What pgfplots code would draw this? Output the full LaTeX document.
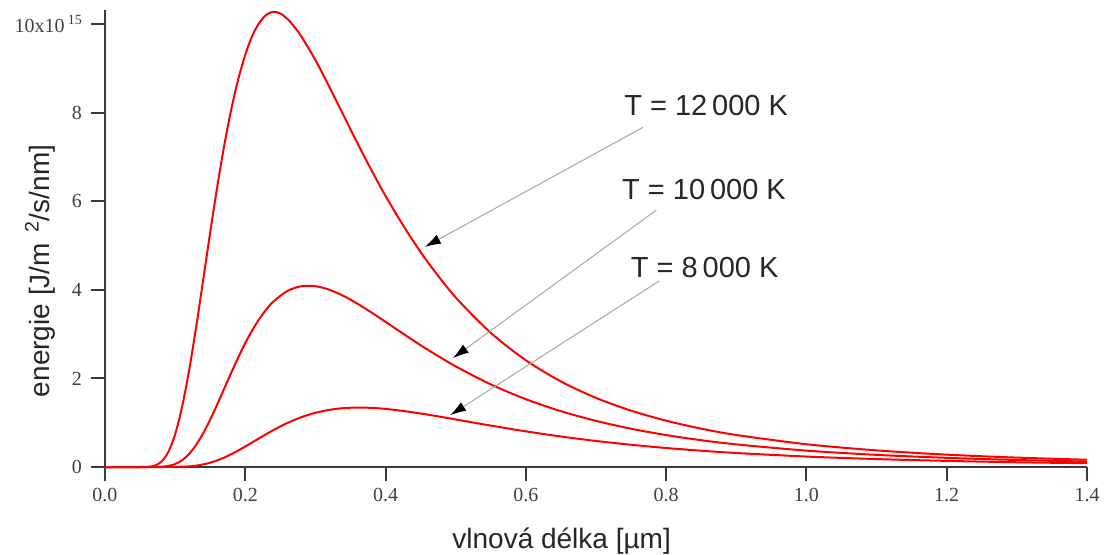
\documentclass[border=0pt]{standalone}
\usepackage{pgfplots}
\pgfplotsset{compat=1.18}
\usepackage{fontspec}
\setmainfont{Liberation Serif}
\newfontfamily\arial{Liberation Sans}
\usetikzlibrary{arrows.meta}
\definecolor{axgray}{HTML}{3A3A3A}
\begin{document}
\begin{tikzpicture}
\useasboundingbox (-52.5pt,-44pt) rectangle (500.5pt,233.5pt);
\begin{axis}[
    anchor=origin, at={(0pt,0pt)},
    scale only axis,
    width=491pt, height=228.5pt,
    xmin=0, xmax=1.4, ymin=0, ymax=10.32,
    axis lines*=left,
    axis line style={axgray, line width=1pt},
    tick style={axgray, line width=1pt},
    tick align=outside,
    major tick length=7pt,
    xtick={0,0.2,...,1.4},
    ytick={0,2,4,6,8,10},
    yticklabels={0,2,4,6,8,{10x10\,\raisebox{4pt}{\fontsize{7}{7}\selectfont 15}}},
    xticklabel style={/pgf/number format/.cd, fixed, fixed zerofill, precision=1},
    /pgf/number format/assume math mode=true,
    ticklabel style={font=\fontsize{10}{12}\selectfont, text=black!75},
    yticklabel style={xshift=-1pt},
    xlabel={vlnová délka [µm]},
    ylabel={energie [J/m\hspace{5pt}\textsuperscript{2}/s/nm]},
    label style={font=\arial\fontsize{14}{16}\selectfont, text=black!85},
    x label style={at={(axis description cs:0.465,-0.162)}, anchor=center},
    y label style={at={(axis description cs:-0.0662,0.429)}, anchor=center},
    clip=false,
]
% T = 12 000 K
\addplot[red, line width=1pt, smooth] coordinates {
    (0,0) (0.05,0) (0.06,0.003) (0.07,0.026) (0.08,0.113) (0.09,0.330)
    (0.10,0.739) (0.11,1.365) (0.12,2.191) (0.13,3.167) (0.14,4.226)
    (0.15,5.299) (0.16,6.325) (0.17,7.261) (0.18,8.077) (0.19,8.757)
    (0.20,9.31) (0.21,9.74) (0.22,10.03) (0.23,10.21) (0.24,10.28)
    (0.25,10.24) (0.26,10.12) (0.27,9.94) (0.28,9.72) (0.30,9.19)
    (0.32,8.58) (0.34,7.945) (0.36,7.31) (0.38,6.70) (0.40,6.12)
    (0.43,5.33) (0.46,4.63) (0.50,3.83) (0.55,3.03) (0.60,2.41)
    (0.65,1.932) (0.70,1.561) (0.75,1.272) (0.80,1.046) (0.85,0.866)
    (0.90,0.723) (1.0,0.514) (1.1,0.375) (1.2,0.279) (1.3,0.212) (1.4,0.164)
};
% T = 10 000 K
\addplot[red, line width=1pt, smooth] coordinates {
    (0,0) (0.06,0) (0.07,0.001) (0.08,0.006) (0.09,0.023) (0.10,0.067)
    (0.11,0.154) (0.12,0.297) (0.13,0.501) (0.14,0.762) (0.15,1.071)
    (0.16,1.412) (0.17,1.771) (0.18,2.129) (0.19,2.475) (0.20,2.798)
    (0.21,3.089) (0.22,3.343) (0.23,3.559) (0.24,3.735) (0.26,3.976)
    (0.28,4.083) (0.30,4.083) (0.32,4.002) (0.34,3.864) (0.36,3.687)
    (0.38,3.488) (0.40,3.277) (0.43,2.958) (0.46,2.650) (0.50,2.272)
    (0.55,1.866) (0.60,1.531) (0.65,1.260) (0.70,1.041) (0.75,0.864)
    (0.80,0.721) (0.85,0.605) (0.90,0.511) (1.0,0.370) (1.1,0.274)
    (1.2,0.207) (1.3,0.158) (1.4,0.123)
};
% T = 8 000 K
\addplot[red, line width=1pt, smooth] coordinates {
    (0,0) (0.08,0) (0.09,0.0004) (0.10,0.002) (0.11,0.006) (0.12,0.015)
    (0.13,0.031) (0.14,0.058) (0.15,0.097) (0.16,0.149) (0.17,0.213)
    (0.18,0.289) (0.19,0.373) (0.20,0.463) (0.22,0.651) (0.24,0.833)
    (0.26,0.994) (0.28,1.125) (0.30,1.224) (0.32,1.291) (0.34,1.329)
    (0.36,1.342) (0.38,1.335) (0.40,1.312) (0.43,1.255) (0.46,1.183)
    (0.50,1.074) (0.55,0.935) (0.60,0.805) (0.65,0.689) (0.70,0.588)
    (0.75,0.502) (0.80,0.429) (0.85,0.368) (0.90,0.316) (1.0,0.236)
    (1.1,0.179) (1.2,0.138) (1.3,0.107) (1.4,0.085)
};
% annotations
\begin{scope}[every node/.style={font=\arial\fontsize{14.5}{16}\selectfont, text=black!85, anchor=base}]
\node at (axis cs:0.857,7.946) {T = 12\,000 K};
\node at (axis cs:0.854,6.05) {T = 10\,000 K};
\node at (axis cs:0.855,4.29) {T = 8\,000 K};
\end{scope}
\begin{scope}[gray!70, line width=0.5pt, -{Latex[black, length=8pt, width=5pt]}]
\draw (axis cs:0.767,7.67) -- (axis cs:0.456,4.97);
\draw (axis cs:0.786,5.80) -- (axis cs:0.496,2.46);
\draw (axis cs:0.790,4.20) -- (axis cs:0.492,1.17);
\end{scope}
\end{axis}
\end{tikzpicture}
\end{document}
